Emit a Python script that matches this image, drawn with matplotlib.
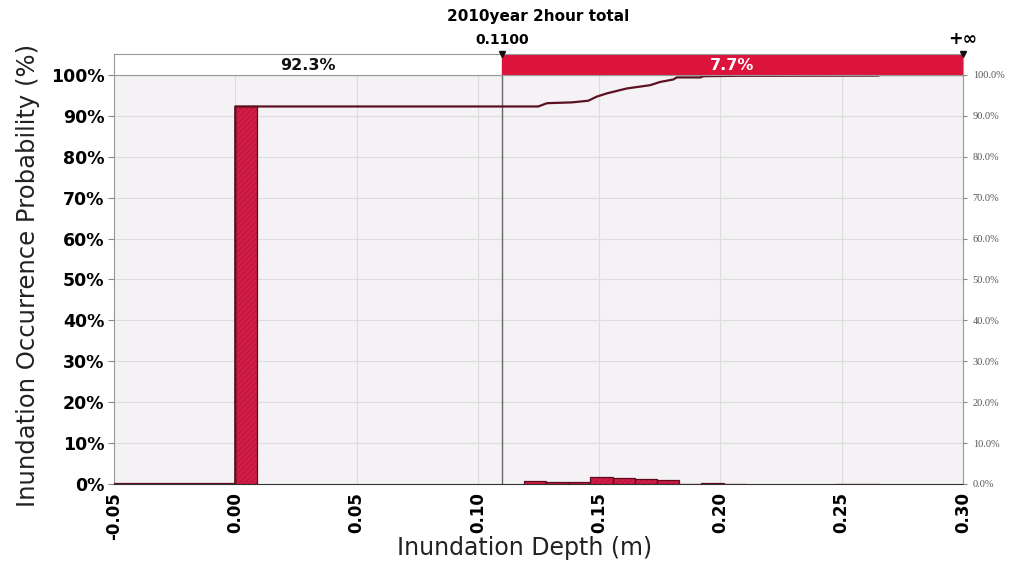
import numpy as np
import matplotlib
matplotlib.use("Agg")
from matplotlib import pyplot as plt
from matplotlib.ticker import FuncFormatter, MultipleLocator

# histogram of inundation depth (bin index, probability %)
bin_width = 0.00915
bin_index = [0, 13, 14, 15, 16, 17, 18, 19, 20, 21, 22, 27, 28]
bin_prob = [92.3, 0.8, 0.4, 0.6, 1.8, 1.4, 1.15, 1.0, 0.05, 0.2, 0.1, 0.1, 0.1]

# cumulative probability curve
cdf_x = [-0.05, 0.0, 0.0, 0.1249, 0.1285, 0.1388, 0.1455, 0.149, 0.1532, 0.1614,
         0.171, 0.1752, 0.1806, 0.182, 0.1917, 0.193, 0.208, 0.265, 0.266, 0.30]
cdf_y = [0.0, 0.0, 92.3, 92.3, 93.1, 93.3, 93.7, 94.7, 95.5, 96.7,
         97.5, 98.3, 98.9, 99.4, 99.4, 99.7, 99.8, 99.85, 100.0, 100.0]

threshold = 0.11
title = "2010year 2hour total"
xlim = (-0.05, 0.30)

bin_left = [i * bin_width for i in bin_index]
below = sum(p for l, p in zip(bin_left, bin_prob) if l < threshold)
above = 100 - below

plt.rcParams["hatch.linewidth"] = 0.5
fig = plt.figure(figsize=(10.16, 5.65), dpi=100)
ax = fig.add_axes([0.1122, 0.1434, 0.8356, 0.7239])
band = fig.add_axes([0.1122, 0.8673, 0.8356, 0.0371])

# main histogram: textured fill, then a dark outline
ax.set_facecolor("#f4f2f4")
ax.bar(bin_left, bin_prob, width=bin_width, align="edge", color="#d21c46",
       edgecolor="#a9163a", hatch="//////", linewidth=0, zorder=3)
ax.bar(bin_left, bin_prob, width=bin_width, align="edge", fill=False,
       edgecolor="#5e0b1f", linewidth=0.9, zorder=3)
ax.plot(cdf_x, cdf_y, color="#5c1020", lw=1.6, zorder=4)
ax.axvline(threshold, color="#666666", lw=1.0, zorder=2)
ax.set_xlim(*xlim)
ax.set_ylim(0, 100)
ax.xaxis.set_major_locator(MultipleLocator(0.05))
ax.yaxis.set_major_locator(MultipleLocator(10))
ax.xaxis.set_major_formatter(FuncFormatter(lambda v, p: f"{v:.2f}"))
ax.yaxis.set_major_formatter(FuncFormatter(lambda v, p: f"{v:.0f}%"))
ax.grid(True, color="#dcdcdc", lw=0.8, zorder=0)
for lab in ax.get_xticklabels():
    lab.set_rotation(90)
ax.tick_params(axis="x", labelsize=12, length=0, pad=6)
ax.tick_params(axis="y", labelsize=12.5, length=4, color="#888888", pad=3)
for lab in ax.get_xticklabels() + ax.get_yticklabels():
    lab.set_fontweight("bold")
for s in ["top", "right", "left"]:
    ax.spines[s].set_color("#999999")
    ax.spines[s].set_linewidth(0.8)
ax.spines["bottom"].set_color("#333333")
fig.text(525 / 1016, 1 - 548 / 565, "Inundation Depth (m)", fontsize=17,
         ha="center", va="center", color="#222222")
fig.text(28 / 1016, 1 - 275 / 565, "Inundation Occurrence Probability (%)",
         fontsize=17.5, ha="center", va="center", rotation=90, color="#222222")

# right-hand percentage axis
ax2 = ax.twinx()
ax2.set_ylim(0, 100)
ax2.yaxis.set_major_locator(MultipleLocator(10))
ax2.yaxis.set_major_formatter(FuncFormatter(lambda v, p: f"{v:.1f}%"))
ax2.tick_params(axis="y", labelsize=7.5, labelcolor="#555555", color="#888888",
                length=3, pad=4)
for s in ax2.spines.values():
    s.set_visible(False)
for lab in ax2.get_yticklabels():
    lab.set_family("Liberation Serif")

# share band above the plot
band.set_xlim(*xlim)
band.set_ylim(0, 1)
band.axvspan(xlim[0], threshold, color="white")
band.axvspan(threshold, xlim[1], color="#dc143c")
band.text((xlim[0] + threshold) / 2, 0.45, f"{below:.1f}%", ha="center",
          va="center", fontsize=11.5, fontweight="bold", color="#111111")
band.text((threshold + xlim[1]) / 2, 0.45, f"{above:.1f}%", ha="center",
          va="center", fontsize=11.5, fontweight="bold", color="white")
band.set_xticks([])
band.set_yticks([])
for s in band.spines.values():
    s.set_color("#999999")
    s.set_linewidth(0.8)
band.plot([threshold, xlim[1]], [1, 1], "v", color="#111111", ms=4,
          clip_on=False, zorder=5)
band.text(threshold, 1.35, f"{threshold:.4f}", ha="center", va="bottom",
          fontsize=10, fontweight="bold")
band.text(xlim[1], 1.3, "+∞", ha="center", va="bottom", fontsize=12.5,
          fontweight="bold")
band.set_title(title, fontsize=11, fontweight="bold", pad=24)

fig.savefig("out.png", dpi=100)
